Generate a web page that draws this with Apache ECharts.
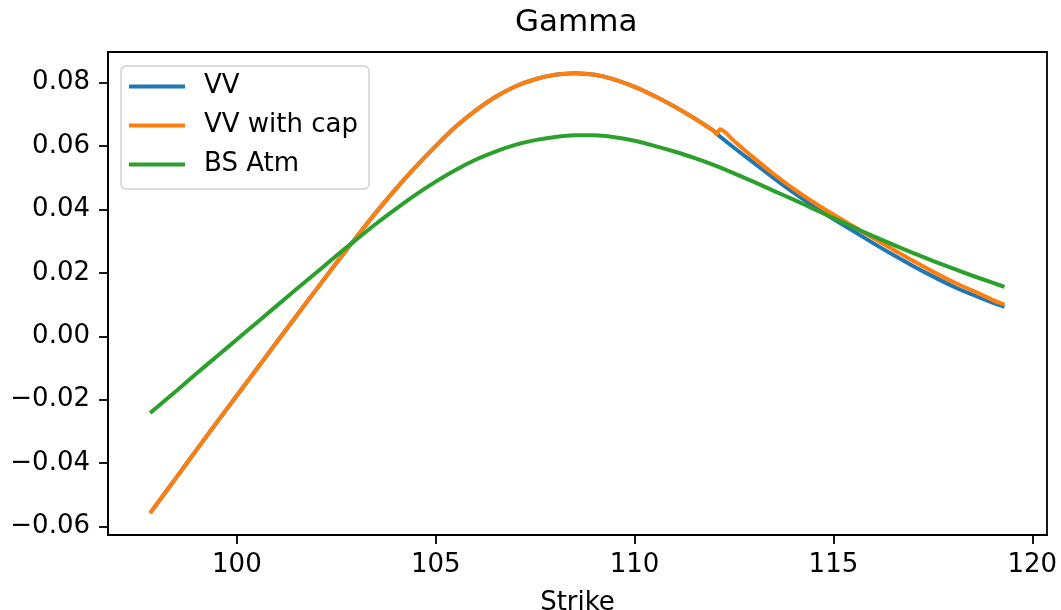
<!DOCTYPE html>
<html>
<head>
<meta charset="utf-8">
<script src="https://cdn.jsdelivr.net/npm/echarts@6/dist/echarts.min.js"></script>
<style>
  html, body { margin: 0; padding: 0; background: #fff; }
  #chart { width: 1061px; height: 610px; }
</style>
</head>
<body>
<div id="chart"></div>
<script>
// strikes shared by all curves up to 112
const strikeLeft = [97.82, 98.5, 99, 99.5, 100, 100.5, 101, 101.5, 102, 102.5, 103, 103.5, 104, 104.5,
  105, 105.5, 106, 106.5, 107, 107.5, 108, 108.5, 109, 109.5, 110, 110.5, 111, 111.5, 112]
const strikeRight = [112.5, 113, 113.5, 114, 114.5, 115, 115.5, 116, 116.5, 117, 117.5, 118, 118.5, 119, 119.3]

const gammaLeft = [-0.0558, -0.0442, -0.0356, -0.0271, -0.0187, -0.0103, -0.0019, 0.0065, 0.0148, 0.0231,
  0.0312, 0.0391, 0.0465, 0.0535, 0.0600, 0.0661, 0.0712, 0.0755, 0.0788, 0.0811, 0.0825, 0.0830,
  0.0825, 0.0810, 0.0787, 0.0758, 0.0725, 0.0688, 0.0647]

// where the cap kicks in
const kinkStrike = [112.07, 112.15]
const kinkGamma = [0.0638, 0.0653]

const gammaVVRight = [0.0595, 0.0547, 0.0499, 0.0453, 0.0410, 0.0370, 0.0332, 0.0294, 0.0257, 0.0222,
  0.0189, 0.0158, 0.0131, 0.0106, 0.0093]
const gammaCapRight = [0.0616, 0.0563, 0.0512, 0.0465, 0.0423, 0.0384, 0.0347, 0.0310, 0.0274, 0.0238,
  0.0204, 0.0172, 0.0144, 0.0115, 0.0100]

const gammaBS = [-0.0242, -0.0170, -0.0116, -0.0063, -0.0010, 0.0043, 0.0096, 0.0149, 0.0201, 0.0254,
  0.0305, 0.0355, 0.0402, 0.0447, 0.0488, 0.0525, 0.0557, 0.0583, 0.0604, 0.0619, 0.0629, 0.0634,
  0.0634, 0.0628, 0.0617, 0.0601, 0.0583, 0.0563, 0.0540,
  0.0514, 0.0487, 0.0459, 0.0431, 0.0402, 0.0373, 0.0344, 0.0316, 0.0289, 0.0263, 0.0238, 0.0214,
  0.0191, 0.0169, 0.0156]

const xTicks = [100, 105, 110, 115, 120]
const yTicks = [-0.06, -0.04, -0.02, 0.00, 0.02, 0.04, 0.06, 0.08]

const zip = (xs, ys) => xs.map((x, i) => [x, ys[i]])

const vvData = zip(strikeLeft, gammaLeft)
  .concat([[kinkStrike[0], kinkGamma[0]]])
  .concat(zip(strikeRight, gammaVVRight))
const capData = zip(strikeLeft, gammaLeft)
  .concat(zip(kinkStrike, kinkGamma))
  .concat(zip(strikeRight, gammaCapRight))
const bsData = zip(strikeLeft.concat(strikeRight), gammaBS)

const font = 'DejaVu Sans'
const fmtY = (v) => (v < 0 ? '\u2212' + Math.abs(v).toFixed(2) : v.toFixed(2))

function lineSeries(name, color, data) {
  return {
    name,
    type: 'line',
    data,
    smooth: 0.3,
    showSymbol: false,
    symbol: 'none',
    lineStyle: { width: 4, color },
    itemStyle: { color }
  }
}

const chart = echarts.init(document.getElementById('chart'))
chart.setOption({
  animation: false,
  backgroundColor: '#fff',
  title: {
    text: 'Gamma',
    left: 515,
    top: 7,
    padding: 0,
    textStyle: { fontFamily: font, fontSize: 31, fontWeight: 'normal', color: '#000' }
  },
  legend: {
    orient: 'vertical',
    left: 121,
    top: 66,
    icon: 'rect',
    itemWidth: 56,
    itemHeight: 4,
    itemGap: 12,
    padding: [7, 11, 11, 8],
    backgroundColor: '#fff',
    borderColor: '#d0d0d0',
    borderWidth: 1.5,
    borderRadius: 5,
    textStyle: { fontFamily: font, fontSize: 26, color: '#000', lineHeight: 27, padding: [0, 0, 0, 14] }
  },
  grid: {
    left: 108, right: 14, top: 52, bottom: 75,
    containLabel: false,
    outerBoundsMode: 'none',
    show: true, borderColor: '#000', borderWidth: 1.8, backgroundColor: 'transparent'
  },
  xAxis: {
    type: 'value',
    min: 96.76,
    max: 120.37,
    name: 'Strike',
    nameLocation: 'middle',
    nameGap: 55,
    nameTextStyle: { fontFamily: font, fontSize: 26, color: '#000' },
    axisLine: { show: true, onZero: false, lineStyle: { color: '#000', width: 1.8 } },
    axisTick: { show: true, length: 9, lineStyle: { color: '#000', width: 1.8 }, customValues: xTicks },
    axisLabel: { fontFamily: font, fontSize: 26, color: '#000', margin: 17, customValues: xTicks },
    splitLine: { show: false }
  },
  yAxis: {
    type: 'value',
    min: -0.0627,
    max: 0.0897,
    axisLine: { show: true, onZero: false, lineStyle: { color: '#000', width: 1.8 } },
    axisTick: { show: true, length: 9, lineStyle: { color: '#000', width: 1.8 }, customValues: yTicks },
    axisLabel: { fontFamily: font, fontSize: 26, color: '#000', margin: 18, customValues: yTicks, formatter: fmtY },
    splitLine: { show: false }
  },
  series: [
    lineSeries('VV', '#1f77b4', vvData),
    lineSeries('VV with cap', '#ff7f0e', capData),
    lineSeries('BS Atm', '#2ca02c', bsData)
  ]
})
</script>
</body>
</html>
